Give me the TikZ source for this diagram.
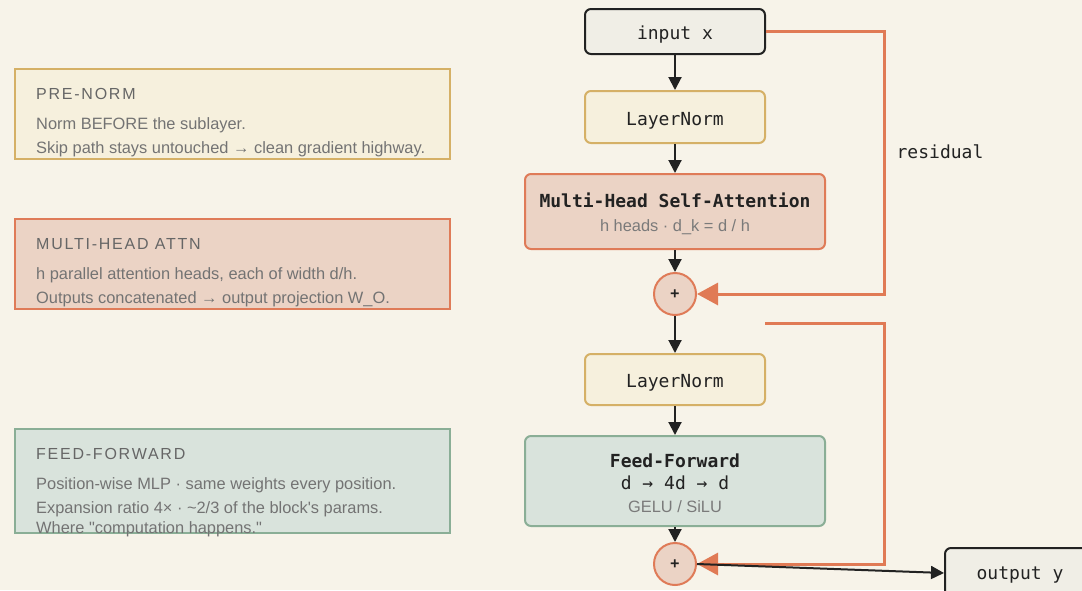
\documentclass[tikz,border=0pt]{standalone}
\usepackage{fontspec}
\setmainfont{Liberation Sans}
\newfontfamily\monofont{DejaVu Sans Mono}
\newfontfamily\titlefont[LetterSpace=11]{Liberation Sans}
\usetikzlibrary{arrows.meta}
\definecolor{bg}{HTML}{F7F3E9}
\definecolor{inkc}{HTML}{222222}
\definecolor{ioFill}{HTML}{F0EEE6}
\definecolor{lnFill}{HTML}{F6F0DD}
\definecolor{lnDraw}{HTML}{D5B066}
\definecolor{atFill}{HTML}{EBD3C5}
\definecolor{atDraw}{HTML}{DF7B58}
\definecolor{ffFill}{HTML}{D9E3DC}
\definecolor{ffDraw}{HTML}{8AAE96}
\definecolor{resc}{HTML}{E07A55}
\definecolor{bodyc}{HTML}{737373}
\definecolor{titlec}{HTML}{666666}
\definecolor{subc}{HTML}{7A7A7A}
\begin{document}
\begin{tikzpicture}[x=1pt,y=-1pt,
  box/.style={rectangle,rounded corners=6pt,line width=2pt,inner sep=0pt},
  iobox/.style={box,fill=ioFill,draw=inkc},
  lnbox/.style={box,fill=lnFill,draw=lnDraw},
  atbox/.style={box,fill=atFill,draw=atDraw},
  ffbox/.style={box,fill=ffFill,draw=ffDraw},
  addnode/.style={circle,fill=atFill,draw=atDraw,line width=2pt,minimum size=42pt,inner sep=0pt,font=\monofont\bfseries\fontsize{15}{15}\selectfont,text=inkc},
  mono/.style={font=\monofont\fontsize{18}{20}\selectfont,text=inkc,inner sep=0pt,anchor=base},
  monob/.style={font=\monofont\bfseries\fontsize{18}{20}\selectfont,text=inkc,inner sep=0pt,anchor=base},
  subt/.style={font=\fontsize{16.4}{20}\selectfont,text=subc,inner sep=0pt,anchor=base},
  panel/.style={rectangle,line width=2pt,inner sep=0pt,minimum width=435pt},
  ptitle/.style={font=\titlefont\fontsize{16}{20}\selectfont,text=titlec,inner sep=0pt,anchor=base west},
  pbody/.style={font=\fontsize{16.4}{20}\selectfont,text=bodyc,inner sep=0pt,anchor=base west},
  flow/.style={line width=2pt,draw=inkc,-{Triangle[length=13pt,width=13pt]}},
  res/.style={line width=3pt,draw=resc,-{Triangle[length=21pt,width=22pt]}}
]
\fill[bg] (0,0) rectangle (1082,590);
\useasboundingbox (0,0) rectangle (1082,590);
\clip (0,0) rectangle (1082,590);

% left panels
\node[panel,fill=lnFill,draw=lnDraw,minimum height=90pt] (p1) at (232.5,114) {};
\node[ptitle] (p1t) at (36,99) {PRE-NORM};
\node[pbody] (p1a) at (36,129) {Norm BEFORE the sublayer.};
\node[pbody] (p1b) at (36,153) {Skip path stays untouched → clean gradient highway.};

\node[panel,fill=atFill,draw=atDraw,minimum height=90pt] (p2) at (232.5,264) {};
\node[ptitle] (p2t) at (36,249) {MULTI-HEAD ATTN};
\node[pbody] (p2a) at (36,279) {h parallel attention heads, each of width d/h.};
\node[pbody] (p2b) at (36,303) {Outputs concatenated → output projection W\_O.};

\node[panel,fill=ffFill,draw=ffDraw,minimum height=104pt] (p3) at (232.5,481) {};
\node[ptitle] (p3t) at (36,459) {FEED-FORWARD};
\node[pbody] (p3a) at (36,489) {Position-wise MLP · same weights every position.};
\node[pbody] (p3b) at (36,513) {Expansion ratio 4× · \textasciitilde2/3 of the block\textquotesingle s params.};
\node[pbody] (p3c) at (36,533) {Where \textquotedbl computation happens.\textquotedbl};

% main column
\node[iobox,minimum width=180pt,minimum height=45pt] (inp) at (675,31.5) {};
\node[mono] (inpt) at (675,39) {input x};

\node[lnbox,minimum width=180pt,minimum height=52pt] (ln1) at (675,117) {};
\node[mono] (ln1t) at (675,125) {LayerNorm};

\node[atbox,minimum width=300pt,minimum height=75pt] (mhsa) at (675,211.5) {};
\node[monob] (mhsat) at (675,207) {Multi-Head Self-Attention};
\node[subt] (mhsas) at (675,231) {h heads · d\_k = d / h};

\node[addnode] (add1) at (675,294) {+};

\node[lnbox,minimum width=180pt,minimum height=51pt] (ln2) at (675,379.5) {};
\node[mono] (ln2t) at (675,387) {LayerNorm};

\node[ffbox,minimum width=300pt,minimum height=90pt] (ff) at (675,481) {};
\node[monob] (fft) at (675,467) {Feed-Forward};
\node[mono] (ffm) at (675,489) {d → 4d → d};
\node[subt] (ffs) at (675,512) {GELU / SiLU};

\node[addnode] (add2) at (675,564) {+};

\node[iobox,minimum width=150pt,minimum height=50pt] (out) at (1020,573) {};
\node[mono] (outt) at (1020,579) {output y};

\node[mono] (reslab) at (940,158) {residual};

% flow arrows
\draw[flow] (inp) -- (ln1);
\draw[flow] (ln1) -- (mhsa);
\draw[flow] (mhsa) -- (add1);
\draw[flow] (add1) -- (ln2);
\draw[flow] (ln2) -- (ff);
\draw[flow] (ff) -- (add2);

% residuals
\coordinate (r1c) at (884,31.5);
\draw[res] (inp.east) -- (r1c) |- (add1.east);
\coordinate (r2s) at (765,323);
\coordinate (r2c) at (884,323);
\draw[res] (r2s) -- (r2c) |- (add2.east);

\draw[flow] (add2.east) -- (out.west);
\end{tikzpicture}
\end{document}
